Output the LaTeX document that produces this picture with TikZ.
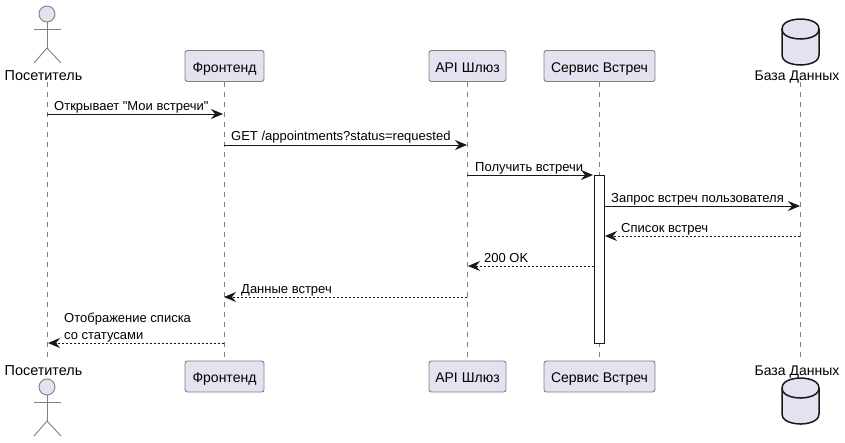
\documentclass[tikz,border=0pt]{standalone}
\usepackage{fontspec}
\setmainfont{Liberation Sans}
\newfontfamily\labelfont{Liberation Sans}
\usetikzlibrary{arrows.meta}
\definecolor{partfill}{HTML}{E2E2F0}
\definecolor{partline}{HTML}{181818}
\definecolor{partedge}{HTML}{808080}
\tikzset{
  part/.style={draw=partedge,line width=0.9pt,fill=partfill,rounded corners=2.5pt,
    minimum height=31pt,inner sep=0pt,text height=12pt,text depth=0pt,
    font=\fontsize{14}{16}\selectfont,text=black},
  actorlabel/.style={inner sep=0pt,anchor=base,font=\fontsize{14.4}{16}\selectfont,text=black},
  dblabel/.style={actorlabel,font=\fontsize{14}{16}\selectfont},
  msglabel/.style={inner sep=0pt,anchor=base west,align=left,
    font=\labelfont\fontsize{13}{16.5}\selectfont,text=black},
  lifeline/.style={draw=partedge,line width=0.8pt,dash pattern=on 5pt off 5pt},
  stick/.style={draw=partedge,line width=0.9pt},
  dbshape/.style={draw=partline,line width=1.5pt,fill=partfill},
  msgcall/.style={draw=partline,line width=1pt,
    -{Stealth[length=12pt,width=10pt,inset=4pt,fill=partline]}},
  msgback/.style={msgcall,dash pattern=on 2pt off 2pt},
}
\begin{document}
\begin{tikzpicture}[x=1pt,y=-1pt]
  \useasboundingbox (0,0) rectangle (845,442);
  % participants, top and bottom
  \node[part,minimum width=79pt] (frontT) at (224.5,66) {Фронтенд};
  \node[part,minimum width=77pt] (apiT) at (467.5,66) {API Шлюз};
  \node[part,minimum width=111pt] (svcT) at (599.5,66) {Сервис Встреч};
  \node[part,minimum width=79pt] (frontB) at (224.5,376.5) {Фронтенд};
  \node[part,minimum width=77pt] (apiB) at (467.5,376.5) {API Шлюз};
  \node[part,minimum width=111pt] (svcB) at (599.5,376.5) {Сервис Встреч};
  \node[actorlabel] (visT) at (43.5,80) {Посетитель};
  \node[actorlabel] (visB) at (43.5,375) {Посетитель};
  \node[dblabel] (dbT) at (797,80) {База Данных};
  \node[dblabel] (dbB) at (797,375) {База Данных};
  % lifelines
  \coordinate (visTop) at (47,82); \coordinate (visEnd) at (47,360);
  \coordinate (dbTop) at (800.5,82); \coordinate (dbEnd) at (800.5,360);
  \draw[lifeline] (visTop) -- (visEnd);
  \draw[lifeline] (frontT) -- (frontB);
  \draw[lifeline] (apiT) -- (apiB);
  \draw[lifeline] (svcT) -- (svcB);
  \draw[lifeline] (dbTop) -- (dbEnd);
  % activation
  \node[draw=partline,line width=1pt,fill=white,minimum width=10pt,minimum height=168pt,
    inner sep=0pt] (svcBar) at (599,259) {};
  % actors
  \foreach \n/\y in {T/0,B/373}{
    \node[stick,fill=partfill,circle,minimum size=16pt,inner sep=0pt] (head\n) at (47,14+\y) {};
    \coordinate (hip\n) at (47,48+\y);
    \coordinate (armL\n) at (34,29+\y); \coordinate (armR\n) at (61,29+\y);
    \coordinate (legL\n) at (34,63+\y); \coordinate (legR\n) at (61,63+\y);
    \draw[stick] (head\n) -- (hip\n);
    \draw[stick] (armL\n) -- (armR\n);
    \draw[stick] (legL\n) -- (hip\n) -- (legR\n);
  }
  % databases
  \foreach \n/\y in {T/0,B/359}{
    \draw[dbshape] (782,29+\y) .. controls (782,19+\y) and (800.5,19+\y) .. (800.5,19+\y)
      .. controls (800.5,19+\y) and (819,19+\y) .. (819,29+\y) -- (819,55+\y)
      .. controls (819,65+\y) and (800.5,65+\y) .. (800.5,65+\y)
      .. controls (800.5,65+\y) and (782,65+\y) .. (782,55+\y) -- cycle;
    \draw[dbshape,fill=none] (782,29+\y) .. controls (782,39+\y) and (800.5,39+\y) .. (800.5,39+\y)
      .. controls (800.5,39+\y) and (819,39+\y) .. (819,29+\y);
  }
  % messages
  \foreach \m/\a/\b/\y in {a/47/223/114,b/224/467/145,c/467/593/175,d/604/800/206,
      e/800/605/236,f/594/468/266,g/467/224/297,h/224/48/343}{
    \coordinate (\m From) at (\a,\y);
    \coordinate (\m To) at (\b,\y);
  }
  \foreach \m in {a,b,c,d} \draw[msgcall] (\m From) -- (\m To);
  \foreach \m in {e,f,g,h} \draw[msgback] (\m From) -- (\m To);
  \node[msglabel] (aText) at (54,110) {Открывает "Мои встречи"};
  \node[msglabel] (bText) at (231,140) {GET /appointments?status=requested};
  \node[msglabel] (cText) at (475,171) {Получить встречи};
  \node[msglabel] (dText) at (611,202) {Запрос встреч пользователя};
  \node[msglabel] (eText) at (621,232) {Список встреч};
  \node[msglabel] (fText) at (484,262) {200 OK};
  \node[msglabel] (gText) at (241,293) {Данные встреч};
  \node[msglabel] (hText) at (64,339) {Отображение списка\\со статусами};
\end{tikzpicture}
\end{document}
